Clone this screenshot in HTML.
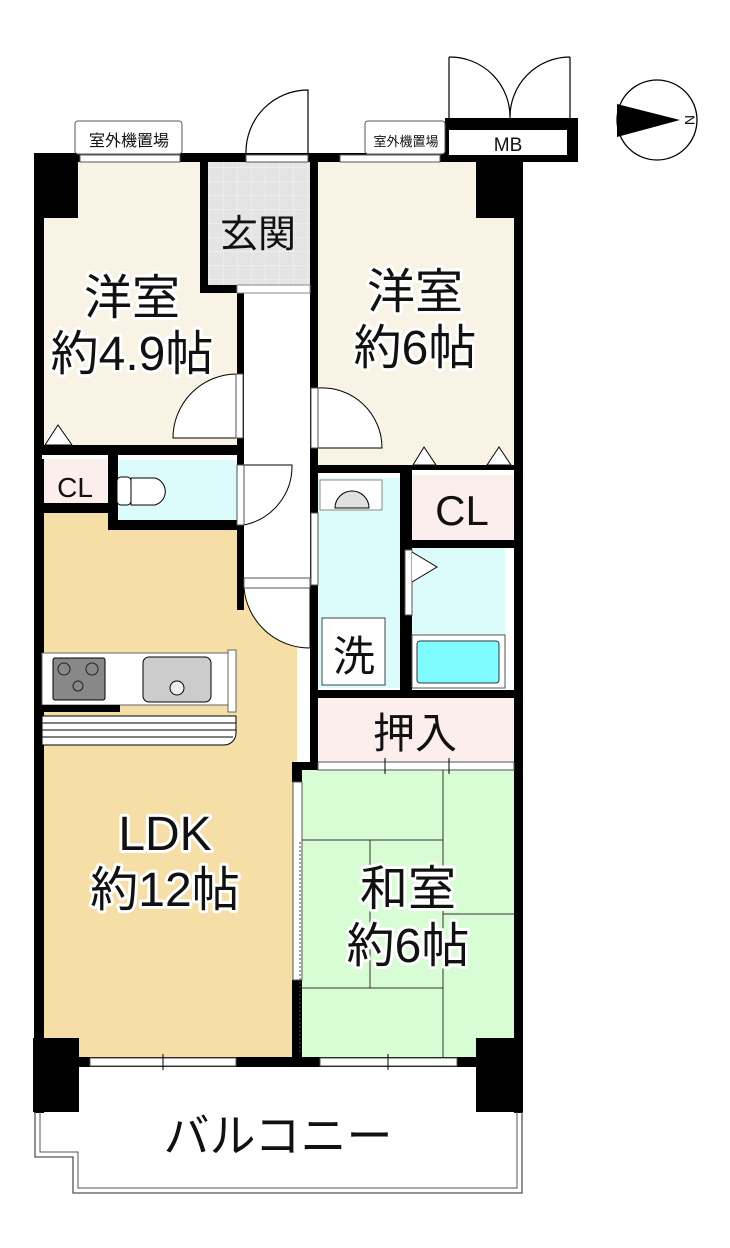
<!DOCTYPE html>
<html><head><meta charset="utf-8"><style>
html,body{margin:0;padding:0;background:#fff;}
svg{display:block;}
text{font-family:"Liberation Sans","Noto Sans CJK JP",sans-serif;fill:#111;}
.lbl{stroke:#fff;stroke-width:6px;paint-order:stroke;stroke-linejoin:round;}
</style></head><body>
<svg width="730" height="1248" viewBox="0 0 730 1248" xmlns="http://www.w3.org/2000/svg">
<defs>
<pattern id="grid" width="14" height="14" patternUnits="userSpaceOnUse">
<rect width="14" height="14" fill="#e4e4e4"/><path d="M14 0V14H0" fill="none" stroke="#f4f4f4" stroke-width="1"/>
</pattern>
</defs>
<rect x="42" y="162" width="195" height="283" fill="#f8f3e4"/>
<rect x="318" y="162" width="196" height="303" fill="#f8f3e4"/>
<rect x="205" y="162" width="105" height="123" fill="url(#grid)"/>
<rect x="42" y="510" width="255" height="548" fill="#f5dfa6"/>
<rect x="237" y="285" width="73" height="300" fill="#fff"/>
<rect x="42" y="455" width="66" height="48" fill="#fdeeee"/>
<rect x="115" y="460" width="122" height="60" fill="#dcfcfc"/>
<rect x="318" y="478" width="84" height="210" fill="#dcfcfc"/>
<rect x="412" y="548" width="93" height="140" fill="#dcfcfc"/>
<rect x="412" y="470" width="102" height="70" fill="#fdeeee"/>
<rect x="318" y="698" width="196" height="64" fill="#fdeeee"/>
<rect x="302" y="770" width="212" height="287" fill="#d8fdd4"/>
<g stroke="#333" stroke-width="1" fill="none">
<line x1="443" y1="770" x2="443" y2="1057"/>
<line x1="302" y1="840" x2="443" y2="840"/>
<line x1="370" y1="840" x2="370" y2="988"/>
<line x1="302" y1="988" x2="443" y2="988"/>
<line x1="443" y1="914" x2="514" y2="914"/>
</g>
<g fill="#000">
<rect x="34" y="153" width="10" height="960"/>
<rect x="514" y="153" width="9" height="960"/>
<rect x="34" y="153" width="489" height="9"/>
<rect x="34" y="153" width="44" height="65"/>
<rect x="476" y="153" width="47" height="65"/>
<rect x="33" y="1038" width="46" height="74"/>
<rect x="476" y="1038" width="47" height="74"/>
<rect x="34" y="1057" width="489" height="10"/>
<rect x="200" y="162" width="8" height="128"/>
<rect x="200" y="285" width="40" height="8"/>
<rect x="237" y="285" width="7" height="160"/>
<rect x="310" y="153" width="8" height="360"/>
<rect x="34" y="445" width="210" height="10"/>
<rect x="34" y="503" width="82" height="10"/>
<rect x="108" y="455" width="10" height="75"/>
<rect x="108" y="520" width="136" height="10"/>
<rect x="237" y="445" width="7" height="165"/>
<rect x="310" y="465" width="210" height="8"/>
<rect x="400" y="465" width="12" height="225"/>
<rect x="405" y="540" width="115" height="8"/>
<rect x="310" y="690" width="210" height="8"/>
<rect x="310" y="473" width="8" height="297"/>
<rect x="292" y="762" width="228" height="8"/>
<rect x="292" y="762" width="10" height="20"/>
<rect x="292" y="980" width="10" height="80"/>
<rect x="445" y="118" width="133" height="44"/>
</g>
<rect x="449" y="130" width="118" height="25" fill="#fff"/>
<text x="508" y="151" font-size="19" text-anchor="middle">MB</text>
<path d="M449 118V57M570 118V57M449 57A60 60 0 0 1 510 118M570 57A60 60 0 0 0 510 118" fill="none" stroke="#000" stroke-width="1.2"/>
<rect x="75" y="121" width="107" height="33" rx="3" fill="#fff" stroke="#555"/>
<rect x="80" y="155" width="100" height="7" fill="#fff" stroke="#555"/>
<text x="129" y="146" font-size="16" text-anchor="middle">室外機置場</text>
<rect x="365" y="121" width="80" height="33" rx="3" fill="#fff" stroke="#555"/>
<rect x="340" y="155" width="100" height="7" fill="#fff" stroke="#555"/>
<text x="406" y="146" font-size="13" text-anchor="middle">室外機置場</text>
<rect x="246" y="155" width="62" height="7" fill="#fff" stroke="#555"/>
<path d="M308 153V90A62 62 0 0 0 246 153" fill="#fff" stroke="#000" stroke-width="1.2"/>
<rect x="237" y="285" width="73" height="8" fill="#fff" stroke="#888"/>
<path d="M237 438H173A64 64 0 0 1 237 374Z" fill="#fff" stroke="#000"/>
<rect x="236" y="374" width="7" height="64" fill="#fff" stroke="#555"/>
<path d="M318 388V448H382A60 60 0 0 0 318 388Z" fill="#fff" stroke="#000"/>
<rect x="311" y="388" width="7" height="60" fill="#fff" stroke="#555"/>
<path d="M244 465V525A60 60 0 0 0 292 465Z" fill="#fff" stroke="#000"/>
<rect x="237" y="465" width="7" height="60" fill="#fff" stroke="#555"/>
<path d="M244 588H310V648A66 66 0 0 1 244 588Z" fill="#fff" stroke="#000"/>
<rect x="244" y="578" width="66" height="10" fill="#fff" stroke="#555"/>
<rect x="311" y="513" width="7" height="72" fill="#fff" stroke="#555"/>
<rect x="405" y="550" width="7" height="65" fill="#fff" stroke="#555"/>
<path d="M412 552L437 567L412 582" fill="#fff" stroke="#000"/>
<g fill="#fff" stroke="#000">
<path d="M45 445L58 425L72 445Z"/>
<path d="M413 465L424 447L436 465Z"/>
<path d="M487 465L499 447L511 465Z"/>
</g>
<rect x="42" y="455" width="66" height="4" fill="#fff"/>
<rect x="412" y="470" width="102" height="5" fill="#fff"/>
<rect x="117" y="477" width="14" height="28" rx="4" fill="#fff" stroke="#000"/>
<path d="M131 478H155A14 14 0 0 1 155 505H131Z" fill="#fff" stroke="#000"/>
<rect x="320" y="480" width="62" height="30" fill="#fff" stroke="#888"/>
<path d="M335 508A17 17 0 0 1 369 508Z" fill="#e0e0e0" stroke="#000"/>
<rect x="322" y="618" width="63" height="67" fill="#fff" stroke="#444"/>
<text x="354" y="671" font-size="42" text-anchor="middle">洗</text>
<rect x="412" y="635" width="93" height="53" fill="#fff" stroke="#555"/>
<rect x="417" y="641" width="82" height="42" rx="3" fill="#7ffcff" stroke="#333"/>
<rect x="42" y="653" width="188" height="52" fill="#fff" stroke="#666"/>
<rect x="228" y="650" width="8" height="62" fill="#fff" stroke="#666"/>
<rect x="53" y="658" width="52" height="42" rx="2" fill="#888" stroke="#000"/>
<g stroke="#222" fill="none"><circle cx="64" cy="669" r="6"/><circle cx="92" cy="669" r="6"/><circle cx="78" cy="686" r="5"/></g>
<rect x="143" y="657" width="68" height="45" rx="6" fill="#ccc" stroke="#000"/>
<circle cx="177" cy="688" r="7" fill="#eee" stroke="#000"/>
<rect x="42" y="705" width="78" height="7" fill="#000"/>
<path d="M42 716H236V733A12 12 0 0 1 224 745H42Z" fill="#fff" stroke="#000"/>
<g stroke="#000"><line x1="42" y1="723" x2="236" y2="723"/><line x1="42" y1="730" x2="236" y2="730"/><line x1="42" y1="737" x2="233" y2="737"/></g>
<rect x="318" y="762" width="196" height="8" fill="#fff" stroke="#555"/>
<line x1="385" y1="758" x2="385" y2="774" stroke="#000"/>
<line x1="449" y1="758" x2="449" y2="774" stroke="#000"/>
<rect x="293" y="782" width="9" height="198" fill="#fff" stroke="#555"/>
<line x1="300" y1="842" x2="300" y2="1052" stroke="#444" stroke-dasharray="2,2"/>
<rect x="90" y="1058" width="146" height="8" fill="#fff" stroke="#555"/>
<line x1="163" y1="1054" x2="163" y2="1070" stroke="#000"/>
<rect x="320" y="1058" width="137" height="8" fill="#fff" stroke="#555"/>
<line x1="388" y1="1054" x2="388" y2="1070" stroke="#000"/>
<path d="M35 1112V1157H73V1193H522V1112" fill="none" stroke="#555" stroke-width="1.3"/>
<path d="M40 1112V1152H78V1188H517V1112" fill="none" stroke="#555" stroke-width="1"/>
<circle cx="657" cy="120" r="40" fill="#fff" stroke="#000" stroke-width="1.3"/>
<path d="M617 104L680 120L617 137Z" fill="#000"/>
<text x="690" y="125" font-size="14" transform="rotate(90 690 120)" text-anchor="middle">N</text>
<g font-size="48" text-anchor="middle">
<text x="132" y="314" class="lbl">洋室</text>
<text x="132" y="370" class="lbl">約4.9帖</text>
<text x="415" y="308" class="lbl">洋室</text>
<text x="415" y="364" class="lbl">約6帖</text>
<text x="165" y="850" class="lbl">LDK</text>
<text x="165" y="906" class="lbl">約12帖</text>
<text x="408" y="905" class="lbl">和室</text>
<text x="408" y="962" class="lbl">約6帖</text>
</g>
<text x="258" y="247" font-size="38" text-anchor="middle">玄関</text>
<text x="75" y="497" font-size="28" text-anchor="middle">CL</text>
<text x="462" y="525" font-size="42" text-anchor="middle">CL</text>
<text x="415" y="748" font-size="42" text-anchor="middle">押入</text>
<text x="278" y="1152" font-size="46" text-anchor="middle">バルコニー</text>
</svg>
</body></html>
